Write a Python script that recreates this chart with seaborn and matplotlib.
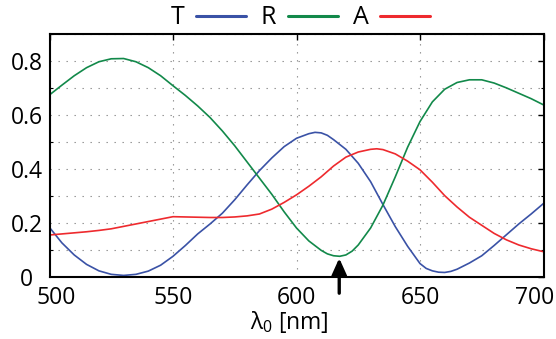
import numpy as np
import pandas as pd
import matplotlib
matplotlib.use("Agg")
import matplotlib.pyplot as plt
import matplotlib.transforms as mtransforms
from matplotlib.lines import Line2D
import seaborn as sns
from matplotlib.ticker import MultipleLocator

T_x = [500, 505, 510, 515, 520, 525, 530, 535, 540, 545, 550, 555, 560, 565, 570,
       575, 580, 585, 590, 595, 600, 605, 607.5, 610, 612.5, 615, 620, 625, 630, 635, 640, 645,
       650, 652.5, 655, 657.5, 660, 662.5, 665, 670, 675, 680, 685, 690, 695, 700]
T_vals = [0.182, 0.125, 0.08, 0.045, 0.021, 0.008, 0.004, 0.008, 0.02, 0.042, 0.075, 0.115,
          0.158, 0.195, 0.235, 0.285, 0.34, 0.393, 0.44, 0.482, 0.513, 0.53, 0.535, 0.533, 0.524,
          0.508, 0.472, 0.42, 0.352, 0.267, 0.185, 0.112, 0.048, 0.03, 0.021, 0.016, 0.015,
          0.019, 0.027, 0.05, 0.077, 0.115, 0.155, 0.195, 0.232, 0.271]
R_x = [500, 505, 510, 515, 520, 525, 530, 535, 540, 545, 550, 555, 560, 565, 570,
       575, 580, 585, 590, 595, 600, 605, 610, 612.5, 615, 617.5, 620, 622.5, 625, 630, 635,
       640, 645, 650, 655, 660, 665, 670, 675, 680, 685, 690, 695, 700]
R_vals = [0.674, 0.71, 0.745, 0.775, 0.797, 0.808, 0.809, 0.797, 0.775, 0.745, 0.708, 0.672,
          0.633, 0.59, 0.54, 0.485, 0.425, 0.365, 0.305, 0.24, 0.18, 0.132, 0.097, 0.084, 0.077,
          0.075, 0.08, 0.094, 0.117, 0.18, 0.265, 0.37, 0.48, 0.575, 0.648, 0.695, 0.72, 0.73,
          0.73, 0.718, 0.7, 0.68, 0.66, 0.637]
A_x = [500, 505, 510, 515, 520, 525, 530, 535, 540, 545, 550, 555, 560, 565, 570,
       575, 580, 585, 590, 595, 600, 605, 610, 615, 620, 625, 630, 632.5, 635, 640, 645,
       650, 655, 660, 665, 670, 675, 680, 685, 690, 695, 700]
A_vals = [0.154, 0.158, 0.162, 0.166, 0.171, 0.177, 0.186, 0.195, 0.204, 0.213, 0.222, 0.221,
          0.22, 0.219, 0.219, 0.221, 0.225, 0.232, 0.25, 0.275, 0.303, 0.335, 0.37, 0.41,
          0.443, 0.462, 0.472, 0.474, 0.471, 0.455, 0.428, 0.396, 0.35, 0.3, 0.258, 0.22, 0.19,
          0.16, 0.136, 0.117, 0.103, 0.092]
series_names = ["T", "R", "A"]
series_colors = ["#3a52a6", "#12894a", "#ee2a2e"]
arrow_x = 617.3
x_ticks = [500, 550, 600, 650, 700]
x_tick_labels = ["500", "550", "600", "650", "700"]
y_ticks = [0, 0.2, 0.4, 0.6, 0.8]
y_tick_labels = ["0", "0.2", "0.4", "0.6", "0.8"]

df = pd.DataFrame({
    "wavelength": T_x + R_x + A_x,
    "value": T_vals + R_vals + A_vals,
    "series": ["T"] * len(T_x) + ["R"] * len(R_x) + ["A"] * len(A_x),
})

sns.set_theme(style="white")
plt.rcParams["font.family"] = ["Open Sans", "DejaVu Sans"]
plt.rcParams["mathtext.fontset"] = "custom"
plt.rcParams["mathtext.rm"] = "Open Sans"
plt.rcParams["mathtext.it"] = "Open Sans"
for k in ["text.color", "axes.labelcolor", "xtick.color", "ytick.color"]:
    plt.rcParams[k] = "black"

fig = plt.figure(figsize=(5.56, 3.39), dpi=100)
ax = fig.add_axes([49.5 / 556, 1 - 276.5 / 339, (543.5 - 49.5) / 556, (276.5 - 34) / 339])

sns.lineplot(data=df, x="wavelength", y="value", hue="series", hue_order=series_names,
             palette=series_colors, linewidth=1.2, ax=ax, legend=False)

ax.set_xlim(500, 700)
ax.set_ylim(0, 0.9)
ax.set_xticks(x_ticks)
ax.set_xticklabels(x_tick_labels)
ax.set_yticks(y_ticks)
ax.set_yticklabels(y_tick_labels, ha="center")
ax.yaxis.set_minor_locator(MultipleLocator(0.1))
ax.tick_params(axis="both", which="major", direction="in", length=4, width=1, color="black",
               top=True, right=True, labelsize=16.5, labelcolor="black")
ax.tick_params(axis="x", pad=7)
ax.tick_params(axis="y", pad=16.5)
ax.tick_params(axis="y", which="minor", direction="in", length=2.5, width=0.8, right=True, left=True)
for s in ax.spines.values():
    s.set_color("black")
    s.set_linewidth(1.5)

xl = ax.get_xticklabels()
xl[0].set_transform(xl[0].get_transform() + mtransforms.ScaledTranslation(7 / 100, 0, fig.dpi_scale_trans))
xl[-1].set_transform(xl[-1].get_transform() + mtransforms.ScaledTranslation(-9 / 100, 0, fig.dpi_scale_trans))

ax.grid(True, which="both", axis="y", color="#8a8a8a", linewidth=0.8, linestyle=(0, (1.2, 6)))
for gx in [550, 600, 650]:
    ax.axvline(gx, color="#8a8a8a", linewidth=0.8, linestyle=(0, (1.2, 6)), zorder=0.5)
ax.set_axisbelow(True)

ax.set_xlabel(r"$\lambda_0$ [nm]", fontsize=16.5, color="black")
ax.xaxis.set_label_coords((289 - 49.5) / 494, -0.135)
ax.set_ylabel("")

ax.annotate("", xy=(arrow_x, 0.068), xytext=(arrow_x, -0.062), xycoords="data",
            arrowprops=dict(arrowstyle="-|>,head_width=0.45,head_length=1.0", color="black",
                            lw=2.4, mutation_scale=10, shrinkA=0, shrinkB=0),
            annotation_clip=False)

handles = [Line2D([], [], color=c, linewidth=2.2) for c in series_colors]
leg = fig.legend(handles, series_names, loc="center", bbox_to_anchor=(0.54, 1 - 18 / 339), ncol=3,
                 frameon=False, markerfirst=False, fontsize=18, handlelength=2.0,
                 handletextpad=0.45, columnspacing=0.6, borderpad=0, borderaxespad=0)
for t in leg.get_texts():
    t.set_color("black")

fig.savefig("out.png", dpi=100)
